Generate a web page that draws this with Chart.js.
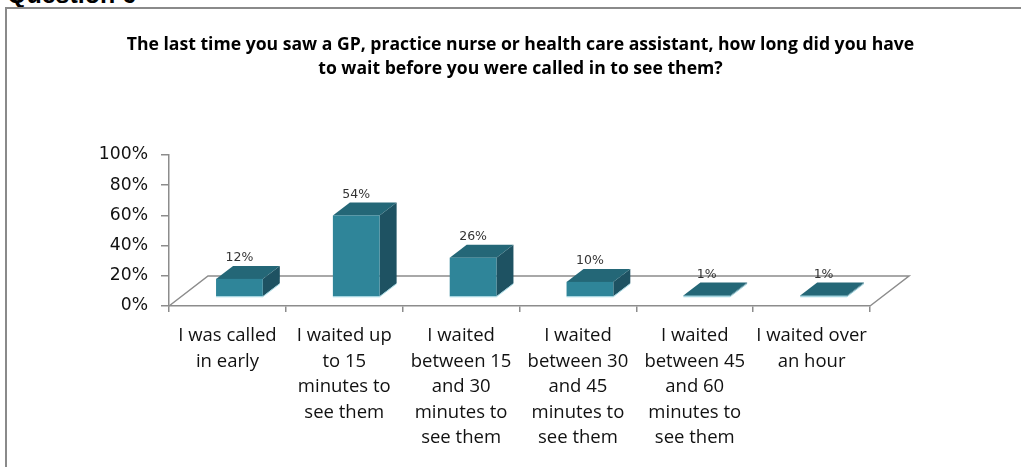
<!DOCTYPE html>
<html><head><meta charset="utf-8">
<script src="https://cdn.jsdelivr.net/npm/chart.js@4.4.0/dist/chart.umd.min.js"></script>
<style>
html,body{margin:0;padding:0;background:#fff;overflow:hidden;}
#wrap{position:relative;width:1021px;height:467px;overflow:hidden;}
#frame{position:absolute;left:5px;top:7px;width:1100px;height:500px;border-left:2px solid #8a8a8a;border-top:2px solid #8a8a8a;}
#q{position:absolute;left:7px;top:-18px;font:bold 25px "Liberation Sans",Arial,sans-serif;line-height:25px;color:#000;white-space:nowrap;}
canvas{position:absolute;left:0;top:0;}
</style></head><body>
<div id="wrap"><div id="q">Question 6</div><div id="frame"></div><canvas id="c" width="1021" height="467"></canvas></div>
<script>
// ---- data ----
const titleLines = [
  "The last time you saw a GP, practice nurse or health care assistant, how long did you have",
  "to wait before you were called in to see them?"
];
const categories = [
  ["I was called", "in early"],
  ["I waited up", "to 15", "minutes to", "see them"],
  ["I waited", "between 15", "and 30", "minutes to", "see them"],
  ["I waited", "between 30", "and 45", "minutes to", "see them"],
  ["I waited", "between 45", "and 60", "minutes to", "see them"],
  ["I waited over", "an hour"]
];
const percentages = [12, 54, 26, 10, 1, 1];
const yTickValues = [0, 20, 40, 60, 80, 100];

// ---- styling ----
const FLOOR = {dx: 39, dy: -30};
const BAR_SHIFT = {dx: 12, dy: -9};
const BAR_DEPTH = {dx: 17, dy: -13};
const COL = {front: '#2f8599', top: '#246777', side: '#1e5262', edge: 'rgba(150,210,222,0.9)'};
const AXIS_COLOR = '#8c8c8c';

const box3d = {
  id: 'box3d',
  beforeDatasetsDraw(chart) {
    const {ctx, chartArea: a} = chart;
    const y0 = chart.scales.y.getPixelForValue(0);
    ctx.save();
    ctx.strokeStyle = AXIS_COLOR;
    ctx.lineWidth = 1.5;
    ctx.beginPath();
    ctx.moveTo(a.left, y0);
    ctx.lineTo(a.left + FLOOR.dx, y0 + FLOOR.dy);
    ctx.lineTo(a.right + FLOOR.dx, y0 + FLOOR.dy);
    ctx.lineTo(a.right, y0);
    ctx.stroke();
    ctx.restore();
  },
  afterDatasetsDraw(chart) {
    const {ctx} = chart;
    const meta = chart.getDatasetMeta(0);
    ctx.save();
    meta.data.forEach((el, i) => {
      const p = el.getProps(['x', 'y', 'base', 'width'], true);
      const L = p.x - p.width / 2 + BAR_SHIFT.dx;
      const R = p.x + p.width / 2 + BAR_SHIFT.dx;
      const T = p.y + BAR_SHIFT.dy;
      const B = p.base + BAR_SHIFT.dy;
      const dx = BAR_DEPTH.dx, dy = BAR_DEPTH.dy;
      // side
      ctx.fillStyle = COL.side;
      ctx.beginPath();
      ctx.moveTo(R, T); ctx.lineTo(R + dx, T + dy); ctx.lineTo(R + dx, B + dy); ctx.lineTo(R, B);
      ctx.closePath(); ctx.fill();
      // top
      ctx.fillStyle = COL.top;
      ctx.beginPath();
      ctx.moveTo(L, T); ctx.lineTo(R, T); ctx.lineTo(R + dx, T + dy); ctx.lineTo(L + dx, T + dy);
      ctx.closePath(); ctx.fill();
      // front
      ctx.fillStyle = COL.front;
      ctx.fillRect(L, T, R - L, B - T);
      ctx.strokeStyle = COL.edge;
      ctx.lineWidth = 1;
      ctx.beginPath();
      ctx.moveTo(L, B + 0.5); ctx.lineTo(R, B + 0.5); ctx.lineTo(R + dx, B + dy + 0.5);
      ctx.stroke();
      // label
      ctx.fillStyle = '#333';
      ctx.font = '12.5px "DejaVu Sans", sans-serif';
      ctx.textAlign = 'center';
      ctx.textBaseline = 'middle';
      ctx.fillText(percentages[i] + '%', (L + R) / 2, T + dy - 8);
    });
    ctx.restore();
  }
};

new Chart(document.getElementById('c'), {
  type: 'bar',
  data: {
    labels: categories,
    datasets: [{
      data: percentages,
      backgroundColor: 'rgba(0,0,0,0)',
      borderWidth: 0,
      categoryPercentage: 1,
      barPercentage: 0.4
    }]
  },
  options: {
    responsive: false,
    animation: false,
    devicePixelRatio: 1,
    layout: {padding: {top: 0, left: 20, right: 0, bottom: 0}},
    plugins: {
      legend: {display: false},
      tooltip: {enabled: false},
      title: {
        display: true,
        text: titleLines,
        color: '#000',
        font: {family: '"Open Sans", sans-serif', size: 17.6, weight: 'bold', lineHeight: 24 / 17.6},
        padding: {top: 33, bottom: 74}
      }
    },
    scales: {
      x: {
        grid: {display: true, drawOnChartArea: false, offset: true, tickLength: 6, color: AXIS_COLOR, lineWidth: 1.5},
        border: {display: true, color: AXIS_COLOR, width: 1.5},
        ticks: {
          autoSkip: false, maxRotation: 0, minRotation: 0, padding: 11,
          color: '#111',
          font: {family: '"Open Sans", sans-serif', size: 18.5, lineHeight: 25.5 / 18.5}
        },
        afterFit(s) { s.height = 161; }
      },
      y: {
        min: 0, max: 100,
        afterBuildTicks(s) { s.ticks = yTickValues.map(v => ({value: v})); },
        grid: {display: true, drawOnChartArea: false, tickLength: 8, color: AXIS_COLOR, lineWidth: 1.5},
        border: {display: true, color: AXIS_COLOR, width: 1.5},
        ticks: {
          padding: 13, color: '#111',
          font: {family: '"DejaVu Sans", sans-serif', size: 17.2},
          callback: v => v + '%'
        },
        afterFit(s) { s.width = 149; }
      },
      yRight: {
        position: 'right',
        display: true,
        grid: {display: false},
        border: {display: false},
        ticks: {display: false},
        afterFit(s) { s.width = 151; }
      }
    }
  },
  plugins: [box3d]
});
</script>
</body></html>
